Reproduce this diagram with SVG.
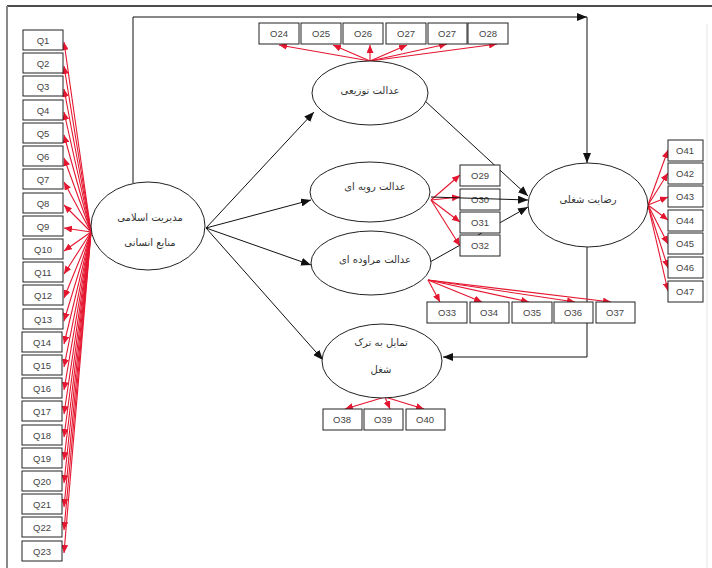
<svg xmlns="http://www.w3.org/2000/svg" width="712" height="568" viewBox="0 0 712 568">
<style>
.box{fill:#fff;stroke:#222;stroke-width:1}
.ell{fill:#fff;stroke:#222;stroke-width:1}
.lbl{font-family:"Liberation Sans",Arial,sans-serif;font-size:9.5px;fill:#444;text-anchor:middle}
.fa{font-family:"DejaVu Sans","Noto Sans",sans-serif;font-size:10px;fill:#333;text-anchor:middle}
.blk{fill:none;stroke:#111;stroke-width:1;marker-end:url(#ab)}
.red{fill:none;stroke:#e5162f;stroke-width:1.1;marker-end:url(#ar)}
</style>
<defs>
<marker id="ab" markerUnits="userSpaceOnUse" markerWidth="10" markerHeight="8" refX="10" refY="4" orient="auto"><path d="M0,0 L10,4 L0,8 z" fill="#111"/></marker>
<marker id="ar" markerUnits="userSpaceOnUse" markerWidth="8" markerHeight="7" refX="8" refY="3.5" orient="auto"><path d="M0,0 L8,3.5 L0,7 z" fill="#e5162f"/></marker>
</defs>
<rect width="712" height="568" fill="#fff"/>
<g id="frame">
<line x1="7" y1="6" x2="712" y2="6" stroke="#111" stroke-width="1.5"/>
<line x1="7" y1="6" x2="7" y2="568" stroke="#888" stroke-width="2"/>
<line x1="707" y1="24" x2="707" y2="568" stroke="#e4e4e4" stroke-width="1"/>
</g>
<g id="connectors">
<polyline class="blk" points="133,183 133,17 587,17"/>
<line class="blk" x1="587" y1="17" x2="587" y2="163"/>
<line class="blk" x1="206" y1="228" x2="314" y2="112"/>
<line class="blk" x1="206" y1="228" x2="311" y2="200"/>
<line class="blk" x1="206" y1="228" x2="311" y2="265"/>
<line class="blk" x1="206" y1="228" x2="323" y2="360"/>
<line class="blk" x1="424" y1="100" x2="528" y2="196"/>
<line class="blk" x1="430" y1="262" x2="528" y2="207"/>
<polyline class="blk" points="587,247 587,357 443,357"/>
<line class="red" x1="91" y1="232" x2="64" y2="42"/>
<line class="red" x1="91" y1="232" x2="64" y2="66"/>
<line class="red" x1="91" y1="232" x2="64" y2="89"/>
<line class="red" x1="91" y1="232" x2="64" y2="112"/>
<line class="red" x1="91" y1="232" x2="64" y2="135"/>
<line class="red" x1="91" y1="232" x2="64" y2="158"/>
<line class="red" x1="91" y1="232" x2="64" y2="182"/>
<line class="red" x1="91" y1="232" x2="64" y2="205"/>
<line class="red" x1="91" y1="232" x2="64" y2="228"/>
<line class="red" x1="91" y1="232" x2="64" y2="251"/>
<line class="red" x1="91" y1="232" x2="64" y2="274"/>
<line class="red" x1="91" y1="232" x2="64" y2="298"/>
<line class="red" x1="91" y1="232" x2="64" y2="321"/>
<line class="red" x1="91" y1="232" x2="64" y2="344"/>
<line class="red" x1="91" y1="232" x2="64" y2="367"/>
<line class="red" x1="91" y1="232" x2="64" y2="390"/>
<line class="red" x1="91" y1="232" x2="64" y2="414"/>
<line class="red" x1="91" y1="232" x2="64" y2="437"/>
<line class="red" x1="91" y1="232" x2="64" y2="460"/>
<line class="red" x1="91" y1="232" x2="64" y2="483"/>
<line class="red" x1="91" y1="232" x2="64" y2="507"/>
<line class="red" x1="91" y1="232" x2="64" y2="530"/>
<line class="red" x1="91" y1="232" x2="64" y2="553"/>
<line class="red" x1="370" y1="61" x2="279" y2="45"/>
<line class="red" x1="370" y1="61" x2="333" y2="45"/>
<line class="red" x1="370" y1="61" x2="370" y2="45"/>
<line class="red" x1="370" y1="61" x2="407" y2="45"/>
<line class="red" x1="370" y1="61" x2="447" y2="44"/>
<line class="red" x1="370" y1="61" x2="497" y2="44"/>
<line class="red" x1="431" y1="200" x2="460" y2="175"/>
<line class="red" x1="431" y1="200" x2="460" y2="197"/>
<line class="red" x1="431" y1="200" x2="460" y2="222"/>
<line class="red" x1="431" y1="200" x2="460" y2="246"/>
<line class="red" x1="428" y1="280" x2="440" y2="302"/>
<line class="red" x1="428" y1="280" x2="482" y2="302"/>
<line class="red" x1="428" y1="280" x2="529" y2="302"/>
<line class="red" x1="428" y1="280" x2="575" y2="302"/>
<line class="red" x1="428" y1="280" x2="611" y2="302"/>
<line class="red" x1="385" y1="397" x2="345" y2="409"/>
<line class="red" x1="385" y1="397" x2="390" y2="409"/>
<line class="red" x1="385" y1="397" x2="424" y2="409"/>
<line class="red" x1="648" y1="205" x2="668" y2="150"/>
<line class="red" x1="648" y1="205" x2="668" y2="173"/>
<line class="red" x1="648" y1="205" x2="668" y2="197"/>
<line class="red" x1="648" y1="205" x2="668" y2="220"/>
<line class="red" x1="648" y1="205" x2="668" y2="244"/>
<line class="red" x1="648" y1="205" x2="668" y2="268"/>
<line class="red" x1="648" y1="205" x2="668" y2="291"/>
</g>
<g id="n-modiriat"><ellipse class="ell" cx="148" cy="226" rx="57" ry="44"/><text class="fa" x="150" y="221">مدیریت اسلامی</text><text class="fa" x="150" y="246">منابع انسانی</text></g>
<g id="n-tozii"><ellipse class="ell" cx="370" cy="93" rx="58" ry="32"/><text class="fa" x="370" y="94">عدالت توزیعی</text></g>
<g id="n-ravie"><ellipse class="ell" cx="370" cy="192" rx="60" ry="30"/><text class="fa" x="375" y="190">عدالت رویه ای</text></g>
<g id="n-moravede"><ellipse class="ell" cx="371" cy="263" rx="60" ry="32"/><text class="fa" x="375" y="263">عدالت مراوده ای</text></g>
<g id="n-rezayat"><ellipse class="ell" cx="588" cy="205" rx="60" ry="42"/><text class="fa" x="588" y="203">رضایت شغلی</text></g>
<g id="n-tark"><ellipse class="ell" cx="382" cy="361" rx="60" ry="37"/><text class="fa" x="381" y="346">تمایل به ترک</text><text class="fa" x="381" y="373">شغل</text></g>
<g id="q-left">
<g id="q1"><rect class="box" x="23" y="30" width="40" height="20"/><text class="lbl" x="43" y="44">Q1</text></g>
<g id="q2"><rect class="box" x="23" y="53" width="40" height="20"/><text class="lbl" x="43" y="67">Q2</text></g>
<g id="q3"><rect class="box" x="23" y="76" width="40" height="20"/><text class="lbl" x="43" y="90">Q3</text></g>
<g id="q4"><rect class="box" x="23" y="100" width="40" height="20"/><text class="lbl" x="43" y="114">Q4</text></g>
<g id="q5"><rect class="box" x="23" y="123" width="40" height="20"/><text class="lbl" x="43" y="137">Q5</text></g>
<g id="q6"><rect class="box" x="23" y="146" width="40" height="20"/><text class="lbl" x="43" y="160">Q6</text></g>
<g id="q7"><rect class="box" x="23" y="169" width="40" height="20"/><text class="lbl" x="43" y="183">Q7</text></g>
<g id="q8"><rect class="box" x="23" y="193" width="40" height="20"/><text class="lbl" x="43" y="207">Q8</text></g>
<g id="q9"><rect class="box" x="23" y="216" width="40" height="20"/><text class="lbl" x="43" y="230">Q9</text></g>
<g id="q10"><rect class="box" x="23" y="239" width="40" height="20"/><text class="lbl" x="43" y="253">Q10</text></g>
<g id="q11"><rect class="box" x="23" y="262" width="40" height="20"/><text class="lbl" x="43" y="276">Q11</text></g>
<g id="q12"><rect class="box" x="23" y="285" width="40" height="20"/><text class="lbl" x="43" y="299">Q12</text></g>
<g id="q13"><rect class="box" x="23" y="309" width="40" height="20"/><text class="lbl" x="43" y="323">Q13</text></g>
<g id="q14"><rect class="box" x="22" y="332" width="40" height="20"/><text class="lbl" x="42" y="346">Q14</text></g>
<g id="q15"><rect class="box" x="22" y="355" width="40" height="20"/><text class="lbl" x="42" y="369">Q15</text></g>
<g id="q16"><rect class="box" x="22" y="378" width="40" height="20"/><text class="lbl" x="42" y="392">Q16</text></g>
<g id="q17"><rect class="box" x="22" y="401" width="40" height="20"/><text class="lbl" x="42" y="415">Q17</text></g>
<g id="q18"><rect class="box" x="22" y="425" width="40" height="20"/><text class="lbl" x="42" y="439">Q18</text></g>
<g id="q19"><rect class="box" x="22" y="448" width="40" height="20"/><text class="lbl" x="42" y="462">Q19</text></g>
<g id="q20"><rect class="box" x="22" y="471" width="40" height="20"/><text class="lbl" x="42" y="485">Q20</text></g>
<g id="q21"><rect class="box" x="22" y="494" width="40" height="20"/><text class="lbl" x="42" y="508">Q21</text></g>
<g id="q22"><rect class="box" x="22" y="517" width="40" height="20"/><text class="lbl" x="42" y="531">Q22</text></g>
<g id="q23"><rect class="box" x="22" y="541" width="40" height="20"/><text class="lbl" x="42" y="555">Q23</text></g>
</g>
<g id="q-top">
<g id="q24"><rect class="box" x="259" y="23" width="40" height="21"/><text class="lbl" x="279" y="37">O24</text></g>
<g id="q25"><rect class="box" x="301" y="23" width="40" height="21"/><text class="lbl" x="321" y="37">O25</text></g>
<g id="q26"><rect class="box" x="343" y="23" width="40" height="21"/><text class="lbl" x="363" y="37">O26</text></g>
<g id="q27a"><rect class="box" x="386" y="23" width="40" height="21"/><text class="lbl" x="406" y="37">O27</text></g>
<g id="q27b"><rect class="box" x="428" y="23" width="39" height="21"/><text class="lbl" x="447" y="37">O27</text></g>
<g id="q28"><rect class="box" x="468" y="23" width="40" height="21"/><text class="lbl" x="488" y="37">O28</text></g>
</g>
<g id="q-mid">
<g id="q29"><rect class="box" x="460" y="165" width="40" height="21"/><text class="lbl" x="480" y="179">O29</text></g>
<g id="q30"><rect class="box" x="460" y="189" width="40" height="21" style="fill:none"/><text class="lbl" x="480" y="203">O30</text></g>
<g id="q31"><rect class="box" x="460" y="212" width="40" height="21"/><text class="lbl" x="480" y="226">O31</text></g>
<g id="q32"><rect class="box" x="460" y="235" width="40" height="21"/><text class="lbl" x="480" y="249">O32</text></g>
</g>
<line class="blk" x1="431" y1="197" x2="528" y2="200"/>
<g id="q-bot1">
<g id="q33"><rect class="box" x="427" y="302" width="40" height="21"/><text class="lbl" x="447" y="316">O33</text></g>
<g id="q34"><rect class="box" x="470" y="302" width="39" height="21"/><text class="lbl" x="489" y="316">O34</text></g>
<g id="q35"><rect class="box" x="512" y="302" width="40" height="21"/><text class="lbl" x="532" y="316">O35</text></g>
<g id="q36"><rect class="box" x="554" y="302" width="39" height="21"/><text class="lbl" x="573" y="316">O36</text></g>
<g id="q37"><rect class="box" x="596" y="302" width="39" height="21"/><text class="lbl" x="615" y="316">O37</text></g>
</g>
<g id="q-bot2">
<g id="q38"><rect class="box" x="323" y="409" width="39" height="21"/><text class="lbl" x="342" y="423">O38</text></g>
<g id="q39"><rect class="box" x="364" y="409" width="39" height="21"/><text class="lbl" x="383" y="423">O39</text></g>
<g id="q40"><rect class="box" x="406" y="409" width="39" height="21"/><text class="lbl" x="425" y="423">O40</text></g>
</g>
<g id="q-right">
<g id="q41"><rect class="box" x="668" y="140" width="35" height="21"/><text class="lbl" x="685" y="154">O41</text></g>
<g id="q42"><rect class="box" x="668" y="163" width="35" height="21"/><text class="lbl" x="685" y="177">O42</text></g>
<g id="q43"><rect class="box" x="668" y="186" width="35" height="21"/><text class="lbl" x="685" y="200">O43</text></g>
<g id="q44"><rect class="box" x="668" y="210" width="35" height="21"/><text class="lbl" x="685" y="224">O44</text></g>
<g id="q45"><rect class="box" x="668" y="233" width="35" height="21"/><text class="lbl" x="685" y="247">O45</text></g>
<g id="q46"><rect class="box" x="668" y="257" width="35" height="21"/><text class="lbl" x="685" y="271">O46</text></g>
<g id="q47"><rect class="box" x="668" y="281" width="35" height="21"/><text class="lbl" x="685" y="295">O47</text></g>
</g>
</svg>
